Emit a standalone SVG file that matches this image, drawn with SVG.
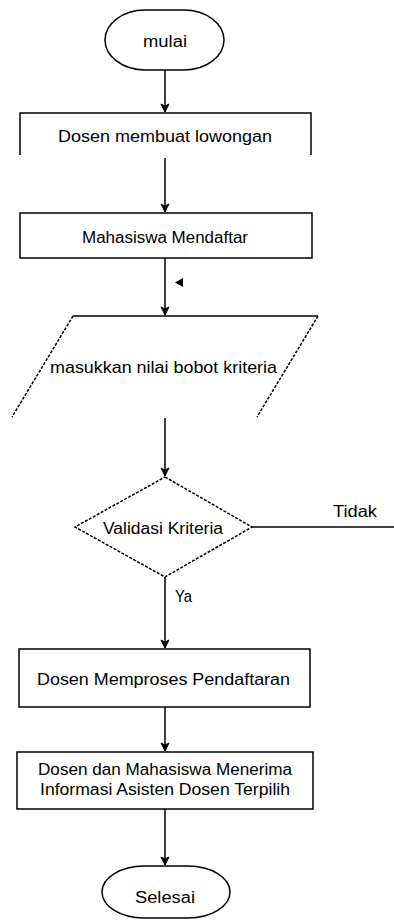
<svg xmlns="http://www.w3.org/2000/svg" width="394" height="921" viewBox="0 0 394 921">
  <style>
    .shape { fill: #ffffff; stroke: #000000; stroke-width: 1.5; }
    .edge { fill: none; stroke: #000000; stroke-width: 1.5; }
    .dash { fill: none; stroke: #000000; stroke-width: 1.5; stroke-dasharray: 3 1.5; }
    .lbl { font-family: "Liberation Sans", Arial, sans-serif; font-size: 16px; fill: #000000; text-anchor: middle; }
  </style>
  <defs>
    <marker id="arrow" markerWidth="10" markerHeight="10" refX="9" refY="5" orient="auto" markerUnits="userSpaceOnUse">
      <path d="M1,1 L9,5 L1,9 L3,5 z" fill="#000000" stroke="#000000" stroke-width="1"/>
    </marker>
  </defs>
  <rect width="394" height="921" fill="#ffffff"/>

  <g id="connectors">
    <line class="edge" x1="165" y1="70" x2="165" y2="112" marker-end="url(#arrow)"/>
    <line class="edge" x1="165" y1="158" x2="165" y2="212" marker-end="url(#arrow)"/>
    <line class="edge" x1="165" y1="258" x2="165" y2="315" marker-end="url(#arrow)"/>
    <path d="M175,282.5 L183,278 L183,287 z" fill="#000000"/>
    <line class="edge" x1="165" y1="418" x2="165" y2="476" marker-end="url(#arrow)"/>
    <line class="edge" x1="252" y1="527" x2="394" y2="527"/>
    <line class="edge" x1="165" y1="577" x2="165" y2="648" marker-end="url(#arrow)"/>
    <line class="edge" x1="165" y1="707" x2="165" y2="751" marker-end="url(#arrow)"/>
    <line class="edge" x1="165" y1="809" x2="165" y2="865" marker-end="url(#arrow)"/>
    <text class="lbl" x="355" y="517" textLength="44" lengthAdjust="spacingAndGlyphs">Tidak</text>
    <text class="lbl" x="183.5" y="602" textLength="17" lengthAdjust="spacingAndGlyphs">Ya</text>
  </g>

  <g id="mulai">
    <rect class="shape" x="105" y="10" width="119" height="60" rx="40" ry="30"/>
    <text class="lbl" x="165" y="47" textLength="44" lengthAdjust="spacingAndGlyphs">mulai</text>
  </g>

  <g id="dosen-membuat">
    <path class="edge" d="M20,155 L20,113 L311,113 L311,155"/>
    <text class="lbl" x="165" y="142" textLength="214" lengthAdjust="spacingAndGlyphs">Dosen membuat lowongan</text>
  </g>

  <g id="mahasiswa-mendaftar">
    <rect class="shape" x="20" y="213" width="292" height="45"/>
    <text class="lbl" x="165" y="243" textLength="166" lengthAdjust="spacingAndGlyphs">Mahasiswa Mendaftar</text>
  </g>

  <g id="input-bobot">
    <line class="edge" x1="73" y1="316" x2="318" y2="316"/>
    <line class="dash" x1="73" y1="316" x2="12" y2="417"/>
    <line class="dash" x1="318" y1="316" x2="257" y2="417"/>
    <text class="lbl" x="163.5" y="373" textLength="227" lengthAdjust="spacingAndGlyphs">masukkan nilai bobot kriteria</text>
  </g>

  <g id="validasi">
    <path class="dash" d="M165,477 L252,527 L165,577 L75,527 Z"/>
    <text class="lbl" x="163" y="534" textLength="120" lengthAdjust="spacingAndGlyphs">Validasi Kriteria</text>
  </g>

  <g id="memproses">
    <rect class="shape" x="19" y="649" width="291" height="58"/>
    <text class="lbl" x="163.5" y="685" textLength="253" lengthAdjust="spacingAndGlyphs">Dosen Memproses Pendaftaran</text>
  </g>

  <g id="menerima">
    <rect class="shape" x="17" y="752" width="296" height="57"/>
    <text class="lbl" x="165" y="775" textLength="254" lengthAdjust="spacingAndGlyphs">Dosen dan Mahasiswa Menerima</text>
    <text class="lbl" x="165" y="795" textLength="250" lengthAdjust="spacingAndGlyphs">Informasi Asisten Dosen Terpilih</text>
  </g>

  <g id="selesai">
    <rect class="shape" x="102" y="866" width="128" height="52" rx="42" ry="26"/>
    <text class="lbl" x="165" y="903" textLength="60" lengthAdjust="spacingAndGlyphs">Selesai</text>
  </g>
</svg>
